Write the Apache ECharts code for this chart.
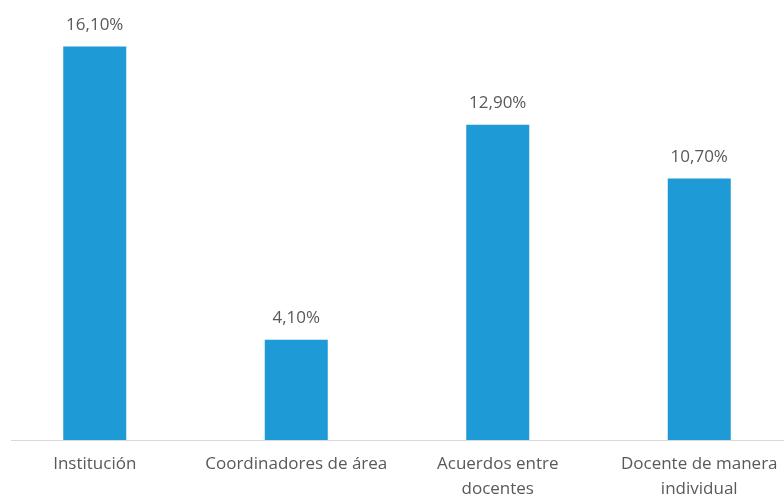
<!DOCTYPE html>
<html>
<head>
<meta charset="utf-8">
<script src="https://cdn.jsdelivr.net/npm/echarts@6/dist/echarts.min.js"></script>
<style>
  html, body { margin: 0; padding: 0; background: #fff; }
  #chart { width: 784px; height: 497px; }
</style>
</head>
<body>
<div id="chart"></div>
<script>
// Categories (line breaks as shown under the axis)
const categories = [
  'Institución',
  'Coordinadores de área',
  'Acuerdos entre\ndocentes',
  'Docente de manera\nindividual'
];
// Percentages
const values = [16.1, 4.1, 12.9, 10.7];

const fmt = v => v.toFixed(2).replace('.', ',') + '%';
const textColor = '#595959';
const fontFamily = '"Open Sans", "Noto Sans", sans-serif';

const chart = echarts.init(document.getElementById('chart'), null, { renderer: 'canvas' });

chart.setOption({
  animation: false,
  backgroundColor: '#ffffff',
  grid: {
    left: -6, width: 806, top: 0, bottom: 57,
    containLabel: false,
    outerBoundsMode: 'none'
  },
  xAxis: {
    type: 'category',
    data: categories,
    axisLine: { show: false },
    axisTick: { show: false },
    axisLabel: {
      color: textColor,
      fontFamily: fontFamily,
      fontSize: 17,
      lineHeight: 25,
      margin: 12,
      interval: 0
    }
  },
  yAxis: {
    type: 'value',
    min: 0,
    max: 18,
    show: false,
    splitLine: { show: false }
  },
  series: [{
    type: 'bar',
    data: values,
    barWidth: 63,
    itemStyle: { color: '#1e9ad6' },
    label: {
      show: true,
      position: 'top',
      distance: 13,
      color: textColor,
      fontFamily: fontFamily,
      fontSize: 17,
      formatter: p => fmt(p.value)
    }
  }]
});

// Baseline under the bars, drawn at the axis zero
const y0 = Math.round(chart.convertToPixel({ yAxisIndex: 0 }, 0)) + 0.5;
chart.setOption({
  graphic: [{
    type: 'line',
    shape: { x1: 11, y1: y0, x2: 784, y2: y0 },
    style: { stroke: '#d9d9d9', lineWidth: 1 },
    z: 0
  }]
});
</script>
</body>
</html>
